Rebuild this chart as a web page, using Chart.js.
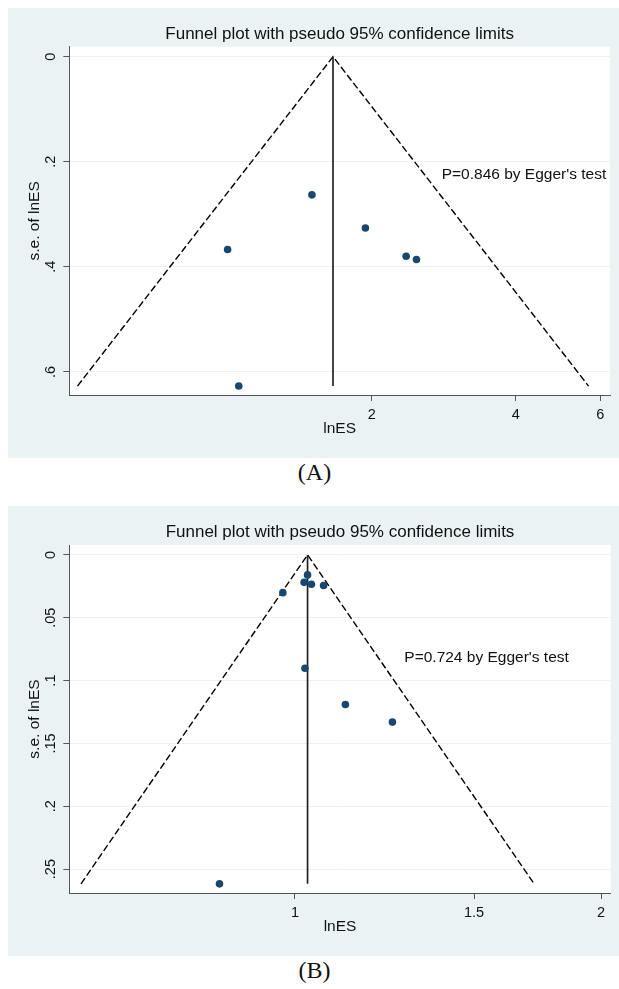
<!DOCTYPE html>
<html>
<head>
<meta charset="utf-8">
<script src="https://cdn.jsdelivr.net/npm/chart.js@4.4.1/dist/chart.umd.min.js"></script>
<style>
  body { margin: 0; background: #fff; width: 619px; height: 989px; position: relative; overflow: hidden; }
  .panel { position: absolute; left: 8px; width: 611px; height: 450px; background: rgb(234,242,243); }
  .caption { position: absolute; left: 0; width: 629px; text-align: center; font-size: 24px; line-height: 24px;
             font-family: "Liberation Serif", "Times New Roman", serif; color: #111; }
</style>
</head>
<body>
<div class="panel" style="top:8px"><canvas id="funnelA"></canvas></div>
<div class="caption" style="top:460px">(A)</div>
<div class="panel" style="top:506px"><canvas id="funnelB"></canvas></div>
<div class="caption" style="top:958px">(B)</div>
<script>
// panel A: effect size (ES) and its standard error for each study
var esA = [1.50, 1.94, 2.36, 2.48, 1.00, 1.055];
var seA = [0.263, 0.326, 0.380, 0.386, 0.367, 0.627];
var pooledA = 1.66;
var seMaxA = 0.627;
var xTicksA = [2, 4, 6];
var xTickLabelsA = ['2', '4', '6'];
var yTicksA = [0, 0.2, 0.4, 0.6];
var yTickLabelsA = ['0', '.2', '.4', '.6'];
var eggerA = "P=0.846 by Egger's test";

// panel B
var esB = [0.973, 1.021, 1.029, 1.023, 1.038, 1.067, 1.121, 1.247, 0.843];
var seB = [0.030, 0.0218, 0.0159, 0.0902, 0.0233, 0.0243, 0.119, 0.133, 0.2617];
var pooledB = 1.029;
var seMaxB = 0.2617;
var xTicksB = [1, 1.5, 2];
var xTickLabelsB = ['1', '1.5', '2'];
var yTicksB = [0, 0.05, 0.1, 0.15, 0.2, 0.25];
var yTickLabelsB = ['0', '.05', '.1', '.15', '.2', '.25'];
var eggerB = "P=0.724 by Egger's test";

var FONT = '"Liberation Sans", Arial, sans-serif';
var TITLE = 'Funnel plot with pseudo 95% confidence limits';
Chart.defaults.font.family = FONT;
Chart.defaults.color = '#111';

var stataText = {
    id: 'stataText',
    beforeDraw: function (chart) {
        var a = chart.chartArea, ctx = chart.ctx;
        ctx.save();
        ctx.fillStyle = '#ffffff';
        ctx.fillRect(a.left, a.top, a.right - a.left, a.bottom - a.top);
        ctx.restore();
    },
    afterDraw: function (chart, args, opts) {
        var a = chart.chartArea, ctx = chart.ctx;
        ctx.save();
        ctx.fillStyle = '#111';
        ctx.textBaseline = 'alphabetic';
        ctx.font = '17px ' + FONT;
        ctx.textAlign = 'center';
        ctx.fillText(TITLE, (a.left + a.right) / 2, 31);
        ctx.font = '15.5px ' + FONT;
        ctx.textAlign = 'left';
        ctx.fillText(opts.note,
            chart.scales.x.getPixelForValue(opts.noteAt[0]),
            chart.scales.y.getPixelForValue(opts.noteAt[1]));
        ctx.restore();
    }
};

function makeFunnel(id, p) {
    var pts = p.es.map(function (v, i) { return {x: v, y: p.se[i]}; });
    // pseudo 95% limits around the pooled estimate, straight in log space
    var lo = Math.exp(Math.log(p.pooled) - 1.96 * p.seMax);
    var hi = Math.exp(Math.log(p.pooled) + 1.96 * p.seMax);
    new Chart(document.getElementById(id), {
        type: 'scatter',
        data: {
            datasets: [{
                data: pts,
                pointRadius: 3.8,
                pointBackgroundColor: '#1a476f',
                pointBorderWidth: 0
            }, {
                data: [{x: p.pooled, y: 0}, {x: p.pooled, y: p.seMax}],
                showLine: true,
                borderColor: '#222',
                borderWidth: 1.7,
                pointRadius: 0
            }, {
                data: [{x: lo, y: p.seMax}, {x: p.pooled, y: 0}, {x: hi, y: p.seMax}],
                showLine: true,
                borderColor: '#000',
                borderWidth: 1.4,
                borderDash: [7, 3],
                pointRadius: 0
            }]
        },
        options: {
            responsive: true,
            maintainAspectRatio: false,
            animation: false,
            layout: { padding: { left: 0, right: p.padRight, top: p.padTop, bottom: 0 } },
            plugins: {
                legend: { display: false },
                tooltip: { enabled: false },
                stataText: { note: p.note, noteAt: p.noteAt }
            },
            scales: {
                x: {
                    type: 'logarithmic',
                    min: p.xMin,
                    max: p.xMax,
                    afterBuildTicks: function (s) {
                        s.ticks = p.xTicks.map(function (v) { return {value: v}; });
                    },
                    afterFit: function (s) { s.height = 63; },
                    ticks: {
                        autoSkip: false,
                        maxRotation: 0,
                        padding: 5,
                        font: { size: 14.5 },
                        callback: function (v, i) { return p.xLabels[i]; }
                    },
                    grid: { drawOnChartArea: false, tickLength: 6, tickColor: '#555' },
                    border: { color: '#555', width: 1 },
                    title: { display: true, text: 'lnES', font: { size: 15.5 }, padding: { top: 0, bottom: 20 } }
                },
                y: {
                    type: 'linear',
                    reverse: true,
                    min: p.yMin,
                    max: p.yMax,
                    afterBuildTicks: function (s) {
                        s.ticks = p.yTicks.map(function (v) { return {value: v}; });
                    },
                    afterFit: function (s) { s.width = 61.3; },
                    ticks: {
                        minRotation: 90,
                        maxRotation: 90,
                        crossAlign: 'center',
                        padding: p.yPad,
                        font: { size: 14.5 },
                        callback: function (v, i) { return p.yLabels[i]; }
                    },
                    grid: { color: 'rgb(234,242,243)', lineWidth: 1, tickLength: 6, tickColor: '#555' },
                    border: { color: '#555', width: 1 },
                    title: { display: true, text: 's.e. of lnES', font: { size: 15.5 }, padding: { top: 17, bottom: 0 } }
                }
            }
        },
        plugins: [stataText]
    });
}

makeFunnel('funnelA', {
    es: esA, se: seA, pooled: pooledA, seMax: seMaxA,
    xTicks: xTicksA, xLabels: xTickLabelsA, yTicks: yTicksA, yLabels: yTickLabelsA,
    xMin: 0.467, xMax: 6.29, yMin: -0.019, yMax: 0.644,
    note: eggerA, noteAt: [2.80, 0.2335],
    padTop: 38.7, padRight: 9, yPad: 6
});

makeFunnel('funnelB', {
    es: esB, se: seB, pooled: pooledB, seMax: seMaxB,
    xTicks: xTicksB, xLabels: xTickLabelsB, yTicks: yTicksB, yLabels: yTickLabelsB,
    xMin: 0.604, xMax: 2.044, yMin: -0.0079, yMax: 0.269,
    note: eggerB, noteAt: [1.281, 0.0855],
    padTop: 39, padRight: 8.3, yPad: 2
});
</script>
</body>
</html>
